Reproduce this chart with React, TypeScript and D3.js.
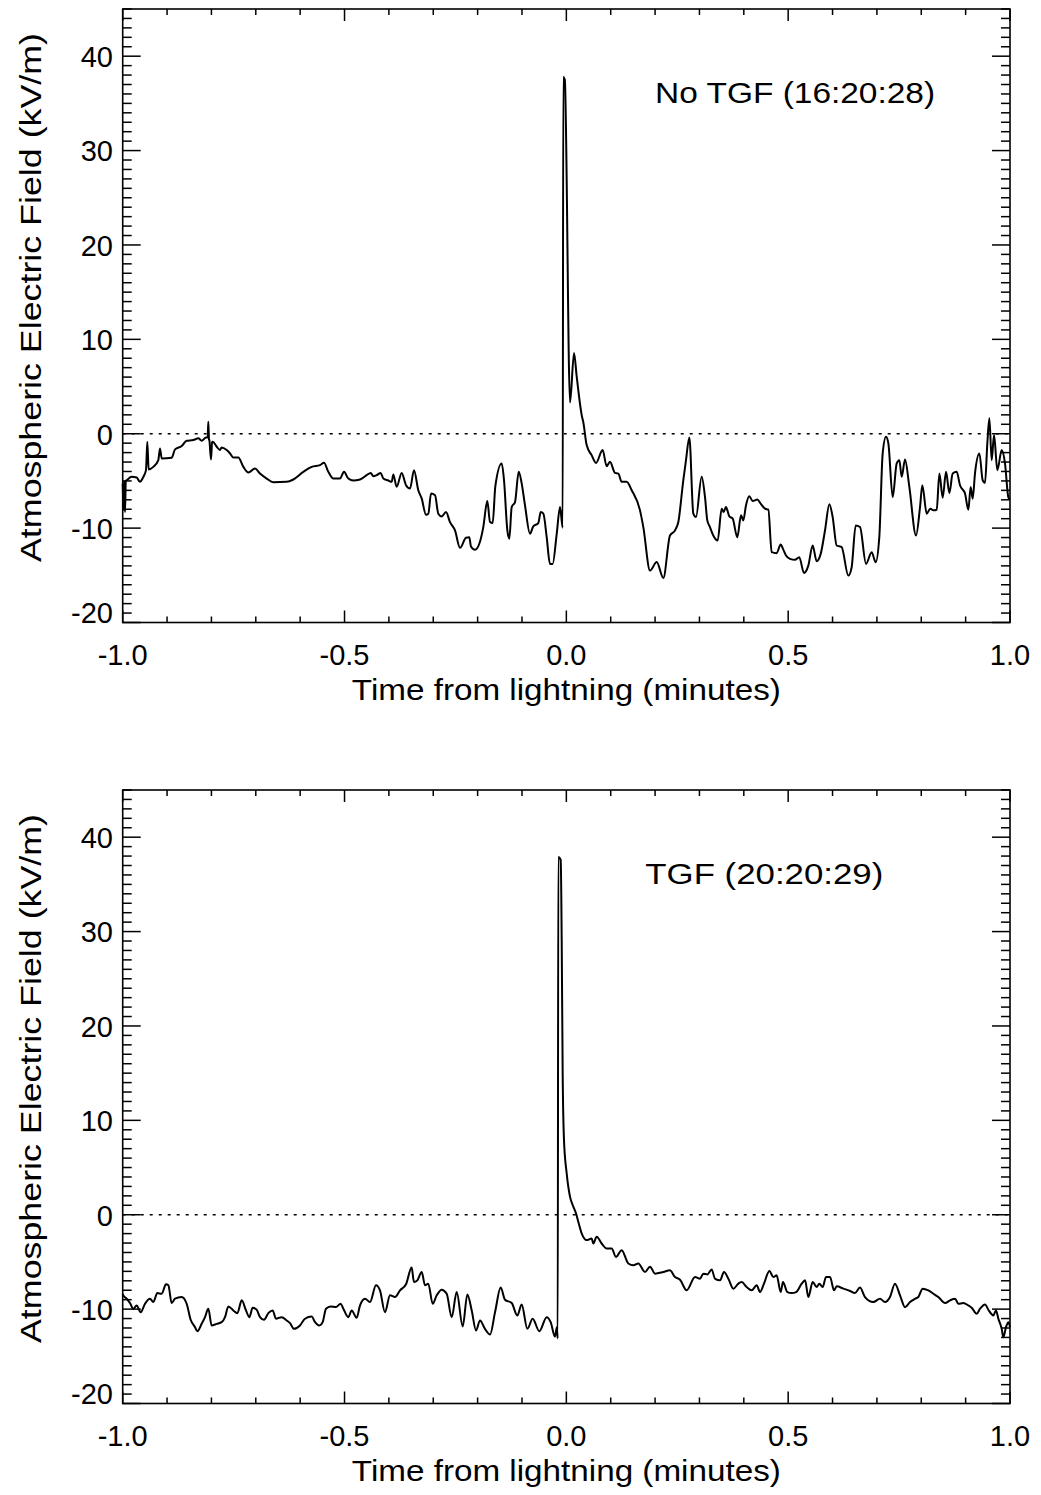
import React from 'react';
import * as d3 from 'd3';

// Field readings (time in minutes from the lightning stroke, field in kV/m)
const noTgfSeries: [number, number][] = [
  [-1.0, -5.3], [-0.998, -8.1], [-0.997, -5.0], [-0.9948, -8.29], [-0.993, -5.0], [-0.991, -4.93],
  [-0.98, -4.57], [-0.9685, -4.64], [-0.961, -5.1], [-0.9535, -4.57], [-0.9475, -3.86], [-0.9445, -0.85],
  [-0.9415, -3.79], [-0.931, -3.51], [-0.9197, -2.8], [-0.916, -1.56], [-0.912, -2.62], [-0.8896, -2.55],
  [-0.882, -1.66], [-0.867, -1.31], [-0.856, -0.74], [-0.841, -0.67], [-0.8295, -0.49], [-0.822, -0.74],
  [-0.8122, -0.39], [-0.8085, -0.4], [-0.807, 1.28], [-0.8055, -0.6], [-0.8047, -0.67], [-0.801, -2.73],
  [-0.7985, -0.9], [-0.7972, -0.85], [-0.788, -1.38], [-0.7807, -1.73], [-0.777, -1.45], [-0.7656, -1.73],
  [-0.758, -2.09], [-0.7506, -2.51], [-0.7394, -2.51], [-0.728, -3.51], [-0.7168, -4.11], [-0.7018, -3.68],
  [-0.6905, -4.22], [-0.6755, -4.75], [-0.6605, -5.14], [-0.6304, -5.1], [-0.6154, -4.85], [-0.5929, -4.04],
  [-0.574, -3.51], [-0.5553, -3.33], [-0.5463, -3.08], [-0.5365, -4.04], [-0.5252, -4.75], [-0.5102, -4.75],
  [-0.5012, -4.04], [-0.4914, -4.75], [-0.4802, -4.96], [-0.4651, -4.85], [-0.4501, -4.39], [-0.441, -4.15],
  [-0.435, -4.5], [-0.4275, -4.39], [-0.4185, -4.15], [-0.4125, -4.75], [-0.4013, -4.96], [-0.3937, -5.1],
  [-0.39, -4.32], [-0.3825, -5.63], [-0.3712, -4.15], [-0.3614, -5.46], [-0.3524, -5.81], [-0.3434, -3.86],
  [-0.3337, -5.99], [-0.326, -6.88], [-0.3164, -8.58], [-0.3111, -8.47], [-0.305, -6.34], [-0.296, -6.52],
  [-0.2886, -8.47], [-0.281, -8.76], [-0.2713, -8.3], [-0.2623, -9.36], [-0.251, -10.24], [-0.2397, -12.09],
  [-0.2262, -11.02], [-0.2187, -10.96], [-0.215, -11.95], [-0.2059, -12.3], [-0.1962, -11.66], [-0.1872, -9.89],
  [-0.1782, -7.13], [-0.172, -9.36], [-0.1661, -9.47], [-0.1601, -5.57], [-0.1457, -3.15], [-0.1405, -4.93],
  [-0.133, -10.25], [-0.1286, -11.13], [-0.1232, -7.77], [-0.1157, -7.24], [-0.1074, -4.04], [-0.1006, -5.28],
  [-0.0932, -7.59], [-0.082, -10.6], [-0.0745, -9.82], [-0.0632, -9.47], [-0.0578, -8.3], [-0.0518, -8.47],
  [-0.0443, -10.96], [-0.0369, -13.79], [-0.0309, -13.79], [-0.0217, -10.6], [-0.0143, -7.77], [-0.0083, -9.96],
  [-0.0069, 37.8], [-0.0035, 37.5], [0.0083, 3.3], [0.0173, 8.55], [0.0233, 6.07], [0.0345, 2.0],
  [0.0383, 1.2], [0.0458, -1.2], [0.057, -2.27], [0.0668, -3.09], [0.0818, -1.73], [0.0908, -3.44],
  [0.0984, -2.98], [0.1096, -4.15], [0.1172, -4.22], [0.1247, -5.1], [0.1359, -5.1], [0.1473, -5.99],
  [0.166, -8.12], [0.1735, -9.89], [0.1886, -14.5], [0.2036, -13.6], [0.2186, -15.28], [0.2336, -10.78],
  [0.2449, -10.24], [0.2524, -9.36], [0.2636, -4.93], [0.2697, -2.8], [0.2772, -0.39], [0.2862, -8.47],
  [0.2922, -8.83], [0.305, -4.55], [0.3125, -6.7], [0.3177, -9.18], [0.3237, -9.89], [0.3312, -10.78],
  [0.341, -11.31], [0.3501, -7.94], [0.3546, -8.3], [0.3598, -7.77], [0.3673, -8.76], [0.3749, -9.0],
  [0.3853, -10.96], [0.3937, -8.65], [0.3989, -9.18], [0.4049, -7.59], [0.4124, -6.63], [0.4199, -7.13],
  [0.4305, -6.98], [0.438, -7.41], [0.4478, -7.94], [0.4553, -8.05], [0.4628, -12.55], [0.474, -12.66],
  [0.4831, -11.73], [0.4883, -12.2], [0.4951, -12.9], [0.5041, -13.26], [0.5154, -13.36], [0.525, -13.09],
  [0.5356, -14.75], [0.5454, -13.97], [0.5552, -11.84], [0.5642, -13.51], [0.5733, -12.73], [0.583, -10.25],
  [0.5928, -7.48], [0.6003, -8.83], [0.6093, -11.84], [0.6205, -12.02], [0.6356, -15.03], [0.6431, -14.14],
  [0.6522, -9.71], [0.6619, -9.89], [0.6755, -13.79], [0.6882, -12.55], [0.6972, -13.61], [0.7054, -10.96],
  [0.713, -2.09], [0.7205, -0.32], [0.7258, -1.02], [0.7356, -6.71], [0.7446, -3.15], [0.7506, -2.8],
  [0.7559, -4.57], [0.7634, -2.72], [0.7731, -5.64], [0.7882, -10.78], [0.7972, -7.77], [0.8024, -5.46],
  [0.8122, -8.47], [0.8205, -7.94], [0.8273, -8.12], [0.8348, -8.05], [0.8408, -4.22], [0.8483, -6.77],
  [0.8558, -4.04], [0.8633, -6.28], [0.8708, -4.22], [0.8798, -4.04], [0.8873, -5.46], [0.8986, -6.34],
  [0.9061, -8.05], [0.9113, -5.64], [0.9159, -6.88], [0.9212, -4.15], [0.931, -2.09], [0.9384, -4.93],
  [0.9437, -5.21], [0.9489, -1.02], [0.9535, 1.63], [0.9587, -2.8], [0.964, -0.14], [0.9715, -3.86],
  [0.9813, -1.73], [0.9887, -3.15], [0.9962, -6.71], [1.0, -6.98],
];

const tgfSeries: [number, number][] = [
  [-1.0, -8.4], [-0.9986, -8.54], [-0.991, -8.9], [-0.9835, -9.36], [-0.976, -9.96], [-0.9685, -9.61],
  [-0.9595, -10.32], [-0.9497, -9.43], [-0.9385, -8.9], [-0.931, -9.25], [-0.9219, -8.3], [-0.9122, -8.37],
  [-0.9024, -7.37], [-0.8971, -7.48], [-0.8896, -9.36], [-0.8821, -8.9], [-0.8671, -8.72], [-0.8558, -9.43],
  [-0.8468, -11.13], [-0.837, -11.91], [-0.8318, -12.34], [-0.822, -11.56], [-0.8145, -10.85], [-0.807, -9.96],
  [-0.7995, -11.73], [-0.7882, -11.56], [-0.7769, -11.38], [-0.7694, -10.85], [-0.7619, -9.71], [-0.7506, -10.14],
  [-0.7416, -10.43], [-0.7318, -9.07], [-0.7221, -10.14], [-0.7146, -10.85], [-0.707, -9.85], [-0.698, -10.07],
  [-0.6905, -10.85], [-0.6815, -11.13], [-0.6717, -10.43], [-0.662, -10.14], [-0.6545, -11.02], [-0.6417, -10.85],
  [-0.6304, -11.2], [-0.6229, -11.49], [-0.6139, -12.09], [-0.6004, -11.73], [-0.5891, -11.02], [-0.5741, -10.78],
  [-0.5665, -11.38], [-0.5569, -11.73], [-0.5493, -11.38], [-0.5418, -9.96], [-0.5312, -9.71], [-0.5192, -9.78],
  [-0.5087, -9.43], [-0.5027, -9.96], [-0.4914, -10.85], [-0.4839, -10.14], [-0.4726, -10.92], [-0.4651, -9.61],
  [-0.4538, -8.9], [-0.4426, -9.25], [-0.4291, -7.48], [-0.4201, -8.01], [-0.4088, -10.32], [-0.3975, -8.54],
  [-0.3862, -8.72], [-0.3749, -8.01], [-0.3614, -7.37], [-0.3487, -5.6], [-0.3434, -7.13], [-0.3359, -6.95],
  [-0.326, -6.07], [-0.3186, -7.48], [-0.3112, -7.3], [-0.3013, -9.43], [-0.2922, -8.54], [-0.281, -7.94],
  [-0.2697, -8.37], [-0.2584, -10.85], [-0.2472, -8.19], [-0.2336, -11.84], [-0.2231, -8.44], [-0.2133, -10.14],
  [-0.2036, -12.27], [-0.1946, -11.2], [-0.1834, -12.09], [-0.172, -12.69], [-0.1607, -10.32], [-0.148, -7.72],
  [-0.1383, -9.0], [-0.1232, -9.36], [-0.1105, -10.67], [-0.1007, -9.5], [-0.0879, -12.09], [-0.0759, -11.02],
  [-0.0609, -12.34], [-0.0443, -10.85], [-0.0353, -11.38], [-0.0256, -12.91], [-0.0215, -11.91], [-0.0195, -13.1],
  [-0.0181, 37.9], [-0.0127, 37.6], [-0.0105, 29.2], [-0.0083, 15.0], [-0.0053, 7.9], [0.0007, 4.4],
  [0.0082, 1.92], [0.0142, 1.03], [0.0217, 0.15], [0.0269, -0.74], [0.0345, -1.98], [0.0458, -2.69],
  [0.057, -2.51], [0.0608, -3.05], [0.0683, -2.34], [0.0796, -3.05], [0.0908, -3.58], [0.1022, -3.58],
  [0.1119, -4.47], [0.1247, -3.76], [0.1397, -5.17], [0.151, -5.35], [0.1622, -5.17], [0.1773, -6.07],
  [0.1886, -5.5], [0.1998, -6.24], [0.2186, -6.07], [0.2336, -5.89], [0.2449, -6.6], [0.2562, -6.88],
  [0.2712, -8.01], [0.29, -6.6], [0.3013, -6.77], [0.3088, -6.24], [0.3177, -6.32], [0.3276, -5.81],
  [0.335, -6.77], [0.3464, -6.95], [0.3553, -6.07], [0.3652, -6.77], [0.3764, -7.83], [0.3877, -7.3],
  [0.3952, -7.13], [0.4064, -7.66], [0.4177, -8.01], [0.429, -7.48], [0.4365, -8.19], [0.4455, -7.3],
  [0.4576, -5.96], [0.4666, -6.6], [0.474, -6.42], [0.4831, -8.19], [0.4883, -7.13], [0.498, -8.19],
  [0.5079, -8.3], [0.5179, -8.19], [0.5305, -7.3], [0.538, -6.95], [0.5455, -8.72], [0.5553, -7.13],
  [0.5642, -7.66], [0.5702, -7.3], [0.5778, -7.66], [0.5853, -6.6], [0.5943, -6.6], [0.6034, -8.01],
  [0.6093, -7.59], [0.6244, -7.83], [0.6394, -8.08], [0.6506, -8.3], [0.6619, -7.72], [0.6732, -8.72],
  [0.692, -9.25], [0.7069, -8.9], [0.7183, -9.25], [0.7295, -8.72], [0.7408, -7.3], [0.7521, -8.54],
  [0.7634, -9.79], [0.7746, -9.25], [0.7859, -8.9], [0.7934, -8.72], [0.8031, -7.83], [0.8159, -8.01],
  [0.8273, -8.37], [0.8384, -8.72], [0.8536, -9.36], [0.8648, -9.07], [0.8761, -8.9], [0.8836, -9.43],
  [0.8948, -9.36], [0.9061, -9.61], [0.9136, -9.85], [0.9249, -10.49], [0.9324, -9.96], [0.9437, -9.5],
  [0.9512, -10.07], [0.9625, -10.67], [0.9685, -10.14], [0.9738, -11.02], [0.9813, -12.09], [0.985, -12.98],
  [0.991, -11.91], [0.9963, -11.38], [1.0, -11.91],
];

const xMajorTicks = [-1.0, -0.5, 0.0, 0.5, 1.0];
const xMinorTicks = d3.range(-10, 11).map(d => d / 10);
const yMajorTicks = [-20, -10, 0, 10, 20, 30, 40];
const yMinorTicks = d3.range(-20, 46);
const xDomain: [number, number] = [-1, 1];
const yDomain: [number, number] = [-20, 45];

const panelTitles = ['No TGF (16:20:28)', 'TGF (20:20:29)'];
const xTitle = 'Time from lightning (minutes)';
const yTitle = 'Atmospheric Electric Field (kV/m)';

const FONT = '"Liberation Sans", Arial, Helvetica, sans-serif';

interface PanelProps {
  series: [number, number][];
  title: string;
  titleAt: [number, number];
  titleLen: number;
  offsetY: number;
}

const Panel: React.FC<PanelProps> = ({ series, title, titleAt, titleLen, offsetY }) => {
  const left = 122.7, right = 1010, top = 9, bottom = 622.5;
  const x = d3.scaleLinear().domain(xDomain).range([left, right]);
  const y = d3.scaleLinear().domain(yDomain).range([bottom, top]);
  const line = d3.line<[number, number]>()
    .x(d => x(d[0]))
    .y(d => y(d[1]))
    .curve(d3.curveMonotoneX);

  // IDL style: tick length relative to the plot size, drawn inward on all four sides
  const xMajLen = 12, xMinLen = 6, yMajLen = 18, yMinLen = 9;

  return (
    <g transform={`translate(0,${offsetY})`}>
      <line x1={left} x2={right} y1={y(0)} y2={y(0)} stroke="#000" strokeWidth={1.5} strokeDasharray="3 6" />
      <path d={line(series) ?? ''} fill="none" stroke="#000" strokeWidth={2} strokeLinejoin="round" />

      <rect x={left} y={top} width={right - left} height={bottom - top} fill="none" stroke="#000" strokeWidth={1.6} />

      {xMinorTicks.map((t, i) => {
        const major = xMajorTicks.some(m => Math.abs(m - t) < 1e-9);
        const len = major ? xMajLen : xMinLen;
        return (
          <g key={`xt${i}`} stroke="#000" strokeWidth={1.5}>
            <line x1={x(t)} x2={x(t)} y1={bottom} y2={bottom - len} />
            <line x1={x(t)} x2={x(t)} y1={top} y2={top + len} />
          </g>
        );
      })}
      {yMinorTicks.map((t, i) => {
        const major = yMajorTicks.includes(t);
        const len = major ? yMajLen : yMinLen;
        return (
          <g key={`yt${i}`} stroke="#000" strokeWidth={1.5}>
            <line x1={left} x2={left + len} y1={y(t)} y2={y(t)} />
            <line x1={right} x2={right - len} y1={y(t)} y2={y(t)} />
          </g>
        );
      })}

      <g fontFamily={FONT} fontSize={29} fill="#000">
        {xMajorTicks.map((t, i) => (
          <text key={`xl${i}`} x={x(t)} y={665} textAnchor="middle">{t.toFixed(1)}</text>
        ))}
        {yMajorTicks.map((t, i) => (
          <text key={`yl${i}`} x={113} y={t === yDomain[0] ? bottom : y(t) + 10.8} textAnchor="end">{t}</text>
        ))}
        <text x={(left + right) / 2} y={700} textAnchor="middle" textLength={429} lengthAdjust="spacingAndGlyphs">{xTitle}</text>
        <text transform={`translate(40.5,297.5) rotate(-90)`} textAnchor="middle" textLength={529} lengthAdjust="spacingAndGlyphs">{yTitle}</text>
        <text x={x(titleAt[0])} y={y(titleAt[1])} textLength={titleLen} lengthAdjust="spacingAndGlyphs">{title}</text>
      </g>
    </g>
  );
};

export default function App() {
  return (
    <svg
      width={1041}
      height={1495}
      viewBox="0 0 1041 1495"
      style={{ position: 'absolute', left: 0, top: 0, background: '#fff' }}
    >
      <rect width={1041} height={1495} fill="#fff" />
      <Panel series={noTgfSeries} title={panelTitles[0]} titleAt={[0.2, 35]} titleLen={280} offsetY={0} />
      <Panel series={tgfSeries} title={panelTitles[1]} titleAt={[0.178, 35]} titleLen={238} offsetY={781} />
    </svg>
  );
}
